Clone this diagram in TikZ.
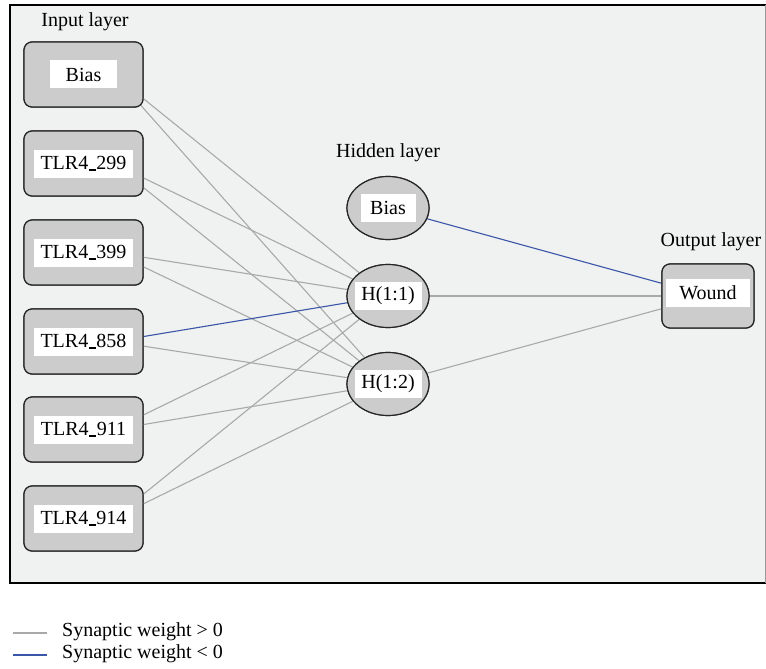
\documentclass[tikz,border=0pt]{standalone}
\usepackage{fontspec}
\setmainfont{Liberation Serif}
\usetikzlibrary{shapes.geometric}
\definecolor{framebg}{HTML}{F0F1F1}
\definecolor{boxfill}{HTML}{CCCCCC}
\definecolor{posw}{HTML}{A9A9A9}
\definecolor{negw}{HTML}{3A56A8}
\newcommand{\us}{\kern0.6pt\rule[-0.8pt]{7pt}{1.6pt}\kern0.6pt}
\tikzset{
  inbox/.style={draw=black!85, fill=boxfill, rounded corners=8pt, line width=1.2pt, minimum width=119pt, minimum height=65pt, inner sep=0pt},
  hidnode/.style={ellipse, draw=black!85, fill=boxfill, line width=1.2pt, minimum width=82pt, minimum height=63pt, inner sep=0pt},
  outbox/.style={draw=black!85, fill=boxfill, rounded corners=8pt, line width=1.2pt, minimum width=92pt, minimum height=64pt, inner sep=0pt},
  lbl/.style={fill=white, inner xsep=6pt, inner ysep=0pt, minimum height=28pt, font=\rmfamily\fontsize{20}{24}\selectfont},
  title/.style={font=\rmfamily\fontsize{20}{24}\selectfont, inner sep=0pt},
  poswt/.style={draw=posw, line width=1.1pt},
  negwt/.style={draw=negw, line width=1.1pt},
}
\begin{document}
\begin{tikzpicture}[x=1pt,y=-1pt]
\useasboundingbox (0,0) rectangle (766,669);
\fill[framebg] (10,5) rectangle (766,583);
\draw[black, line width=1.3pt] (766,5) -- (10,5) -- (10,583) -- (766,583);
\draw[black!40, line width=1pt] (765.5,5) -- (765.5,583);

% titles
\node[title] (tin) at (85,22) {Input layer};
\node[title] (thid) at (388,153) {Hidden layer};
\node[title] (tout) at (711,242) {Output layer};

% input nodes
\node[inbox] (ib) at (83.5,74.5) {};
\node[inbox] (i299) at (83.5,163.5) {};
\node[inbox] (i399) at (83.5,252.5) {};
\node[inbox] (i858) at (83.5,341.5) {};
\node[inbox] (i911) at (83.5,429.5) {};
\node[inbox] (i914) at (83.5,518.5) {};

% hidden nodes
\node[hidnode] (hb) at (388,208) {};
\node[hidnode] (h1) at (388,296) {};
\node[hidnode] (h2) at (388,384) {};

% output
\node[outbox] (ow) at (708,296) {};

% connections (start inside the input boxes, boxes are redrawn on top)
\foreach \s in {ib,i299,i399,i911,i914} {
  \draw[poswt] ([xshift=30pt]\s.center) -- (h1.center);
  \draw[poswt] ([xshift=30pt]\s.center) -- (h2.center);
}
\draw[negwt] ([xshift=30pt]i858.center) -- (h1.center);
\draw[poswt] ([xshift=30pt]i858.center) -- (h2.center);
\draw[negwt] (hb) -- (ow);
\draw[poswt] (h1) -- (ow);
\draw[poswt] (h2) -- (ow);

% redraw shapes on top of lines
\node[inbox] at (ib) {};
\node[inbox] at (i299) {};
\node[inbox] at (i399) {};
\node[inbox] at (i858) {};
\node[inbox] at (i911) {};
\node[inbox] at (i914) {};
\node[hidnode] at (hb) {};
\node[hidnode] at (h1) {};
\node[hidnode] at (h2) {};
\node[outbox] at (ow) {};

% labels
\node[lbl, minimum width=67pt] (lb) at (ib) {Bias};
\node[lbl, minimum width=99pt] (l299) at (i299) {TLR4\us 299};
\node[lbl, minimum width=99pt] (l399) at (i399) {TLR4\us 399};
\node[lbl, minimum width=99pt] (l858) at (i858) {TLR4\us 858};
\node[lbl, minimum width=99pt] (l911) at (i911) {TLR4\us 911};
\node[lbl, minimum width=99pt] (l914) at (i914) {TLR4\us 914};
\node[lbl, minimum width=55pt] (lhb) at (hb) {Bias};
\node[lbl, minimum width=67pt] (lh1) at (h1) {H(1:1)};
\node[lbl, minimum width=67pt] (lh2) at (h2) {H(1:2)};
\node[lbl, minimum width=84pt] (lw) at (708,293) {Wound};

% legend
\coordinate (g1a) at (13,633);
\coordinate (g1b) at (47,633);
\coordinate (g2a) at (13,655);
\coordinate (g2b) at (47,655);
\draw[poswt] (g1a) -- (g1b);
\draw[negwt] (g2a) -- (g2b);
\node[title, anchor=west] (leg1) at (62,632) {Synaptic weight > 0};
\node[title, anchor=west] (leg2) at (62,654) {Synaptic weight < 0};
\end{tikzpicture}
\end{document}
